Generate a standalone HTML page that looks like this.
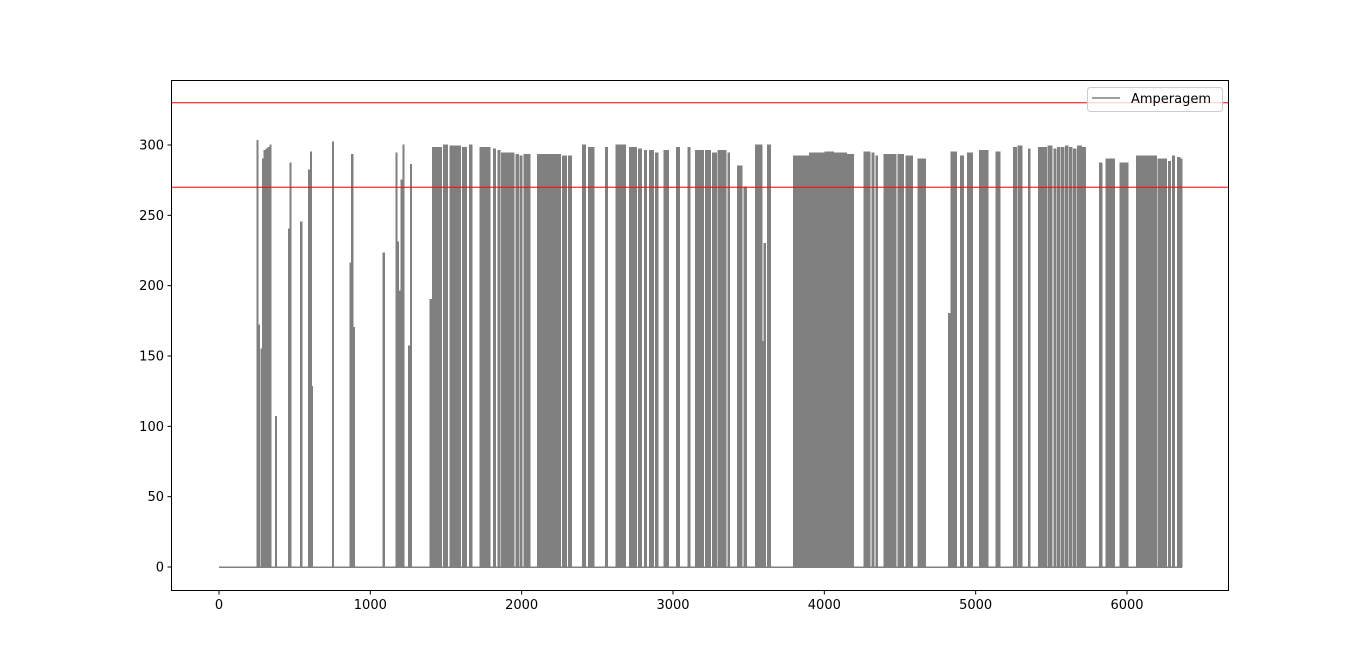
<!DOCTYPE html>
<html><head><meta charset="utf-8"><style>
html,body{margin:0;padding:0;background:#fff;}
svg{display:block;font-family:"DejaVu Sans","Liberation Sans",sans-serif;}
</style></head><body>
<svg id="chart" width="1366" height="663" viewBox="0 0 1366 663" xmlns="http://www.w3.org/2000/svg">
<rect x="0" y="0" width="1366" height="663" fill="#fff"/>
<g id="marks" shape-rendering="crispEdges"></g>
<g id="refs"></g>
<rect x="171.5" y="80.5" width="1057" height="510" fill="none" stroke="#000" stroke-width="1"/>
<g id="xaxis"></g>
<g id="yaxis"></g>
<g>
<rect x="1087.5" y="87.5" width="135" height="24" rx="3" fill="#fff" fill-opacity="0.8" stroke="#ccc"/>
<line x1="1092" y1="98" x2="1120" y2="98" stroke="#808080" stroke-width="1.5"/>
<text x="1131" y="103" font-size="13" fill="#000">Amperagem</text>
</g>
</svg>
<script>
const blockStart=[250,262,276,286,298,311,323,338,372,458,468,540,590,604,612,750,864,877,890,1085,1170,1180,1190,1202,1216,1252,1265,
1394,1412,1482,1526,1610,1654,1725,1813,1844,1866,1963,1989,2015,2104,2271,2311,2403,2443,2553,
2623,2712,2773,2813,2844,2883,2941,3024,3099,3148,3214,3262,3297,3363,
3425,3469,3544,3586,3601,3623,
3795,3903,4006,4062,4150,4262,4315,4341,4394,4487,4540,4619,
4822,4838,4901,4945,5024,5134,5249,5280,
5350,5416,5478,5518,5540,5566,5593,5619,5645,5672,5707,
5817,5861,5954,6064,6205,6275,6302,6333,6355];
const blockEnd=[258,268,282,292,306,318,330,345,380,465,477,548,598,612,618,758,871,884,896,1092,1177,1186,1196,1210,1222,1258,1272,
1410,1471,1509,1597,1637,1672,1791,1826,1857,1949,1980,2002,2055,2258,2297,2328,2421,2478,2566,
2685,2760,2791,2826,2870,2901,2971,3042,3112,3200,3249,3289,3350,3372,
3456,3487,3588,3600,3610,3645,
3901,4004,4060,4148,4192,4302,4328,4350,4474,4522,4584,4667,
4835,4874,4919,4980,5081,5161,5271,5306,
5359,5469,5505,5531,5557,5584,5610,5637,5663,5698,5725,
5835,5919,6007,6196,6262,6289,6315,6350,6363];
const blockPeak=[303,172,155,290,296,297,298,300,107,240,287,245,282,295,128,302,216,293,170,223,294,231,196,275,300,157,286,
190,298,300,299,298,300,298,297,296,294,293,292,293,293,292,292,300,298,298,
300,298,297,296,296,294,296,298,298,296,296,294,296,294,
285,270,300,160,230,300,
292,294,295,294,293,295,294,292,293,293,292,290,
180,295,292,294,296,295,298,299,
297,298,299,297,298,298,299,298,297,299,298,
287,290,287,292,290,288,292,291,290];
const xTicks=[0,1000,2000,3000,4000,5000,6000];
const yTicks=[0,50,100,150,200,250,300];
const refValues=[330,270];
const xMax=6363;

const NS="http://www.w3.org/2000/svg";
const X=v=>219+v*0.151333;
const Y=v=>567-v*1.40667;
function mk(t,a,p){const e=document.createElementNS(NS,t);for(const k in a)e.setAttribute(k,a[k]);p.appendChild(e);return e;}
const marks=document.getElementById('marks');
const base=mk('line',{x1:X(0),y1:Y(0),x2:X(xMax),y2:Y(0),stroke:'#808080','stroke-width':1.5},marks);


for(let i=0;i<blockStart.length;i++){
  const x0=X(blockStart[i])-0.5,x1=Math.max(X(blockEnd[i])+0.5,x0+1.6),y=Y(blockPeak[i])-0.7,y0=Y(0)+0.7;
  const p=mk('path',{d:`M${x0},${y0}L${x0},${y}L${x1},${y}L${x1},${y0}Z`,fill:'#808080',stroke:'none'},marks);
  
  
}
const refs=document.getElementById('refs');
refValues.forEach(v=>{
  const l=mk('line',{x1:171,x2:1229,y1:Y(v),y2:Y(v),stroke:'#ff0000','stroke-width':1},refs);
  
  
});
const xa=document.getElementById('xaxis');
xTicks.forEach(v=>{
  const x=X(v);
  const t=mk('line',{x1:x,x2:x,y1:591,y2:594.5,stroke:'#000'},xa);
  
  
  const s=mk('text',{x:x,y:609,'font-size':13,'text-anchor':'middle',fill:'#000'},xa);
  s.textContent=v;
  
  
});
const ya=document.getElementById('yaxis');
yTicks.forEach(v=>{
  const y=Y(v);
  const t=mk('line',{x1:167.5,x2:171,y1:y,y2:y,stroke:'#000'},ya);
  
  
  const s=mk('text',{x:164,y:y+4.5,'font-size':13,'text-anchor':'end',fill:'#000'},ya);
  s.textContent=v;
  
  
});
</script>
</body></html>
